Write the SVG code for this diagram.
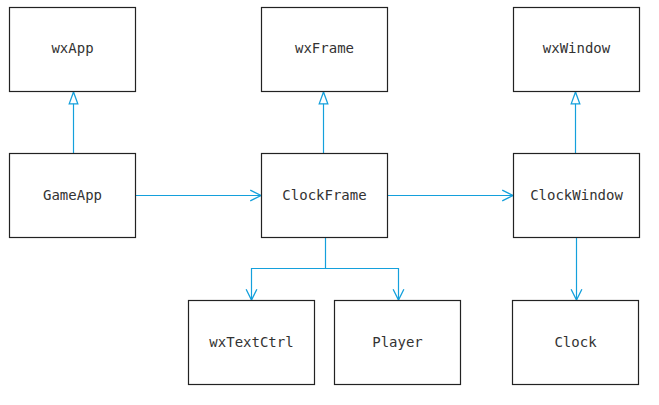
<svg xmlns="http://www.w3.org/2000/svg" width="659" height="405" viewBox="0 0 659 405">
<style>
.box rect{fill:#fff;stroke:#222;stroke-width:1.2}
.box text{font-family:"DejaVu Sans Mono","Liberation Mono",monospace;font-size:14px;fill:#333;text-anchor:middle;dominant-baseline:central}
.c{fill:none;stroke:#14a0dc;stroke-width:1.2}
</style>
<defs>
<marker id="tri" markerUnits="userSpaceOnUse" markerWidth="14" markerHeight="14" viewBox="0 -6 13 12" refX="12" refY="0" orient="auto">
<path d="M1,-4 L12,0 L1,4 Z" fill="#fff" stroke="#14a0dc" stroke-width="1.2"/>
</marker>
<marker id="open" markerUnits="userSpaceOnUse" markerWidth="14" markerHeight="14" viewBox="0 -6 13 12" refX="11" refY="0" orient="auto">
<path d="M1,-5 L11,0 L1,5" fill="none" stroke="#14a0dc" stroke-width="1.2"/>
</marker>
</defs>
<g id="connectors">
<path class="c" d="M73.5,153 V92" marker-end="url(#tri)"/>
<path class="c" d="M323.5,153 V92" marker-end="url(#tri)"/>
<path class="c" d="M575.5,153 V92" marker-end="url(#tri)"/>
<path class="c" d="M135.5,195.5 H261" marker-end="url(#open)"/>
<path class="c" d="M387.5,195.5 H513" marker-end="url(#open)"/>
<path class="c" d="M325.5,237 V268.5 H251.5 V300" marker-end="url(#open)"/>
<path class="c" d="M325.5,268.5 H398.5 V300" marker-end="url(#open)"/>
<path class="c" d="M576.5,237 V300" marker-end="url(#open)"/>
</g>
<g id="wxApp" class="box"><rect x="9.5" y="7.5" width="126" height="84"/><text x="72.5" y="48">wxApp</text></g>
<g id="wxFrame" class="box"><rect x="261.5" y="7.5" width="126" height="84"/><text x="324.5" y="48">wxFrame</text></g>
<g id="wxWindow" class="box"><rect x="513.5" y="7.5" width="126" height="84"/><text x="576.5" y="48">wxWindow</text></g>
<g id="GameApp" class="box"><rect x="9.5" y="153.5" width="126" height="84"/><text x="72.5" y="195">GameApp</text></g>
<g id="ClockFrame" class="box"><rect x="261.5" y="153.5" width="126" height="84"/><text x="324.5" y="195">ClockFrame</text></g>
<g id="ClockWindow" class="box"><rect x="513.5" y="153.5" width="126" height="84"/><text x="576.5" y="195">ClockWindow</text></g>
<g id="wxTextCtrl" class="box"><rect x="188.5" y="300.5" width="126" height="84"/><text x="251.5" y="342">wxTextCtrl</text></g>
<g id="Player" class="box"><rect x="334.5" y="300.5" width="126" height="84"/><text x="397.5" y="342">Player</text></g>
<g id="Clock" class="box"><rect x="512.5" y="300.5" width="126" height="84"/><text x="575.5" y="342">Clock</text></g>
</svg>
